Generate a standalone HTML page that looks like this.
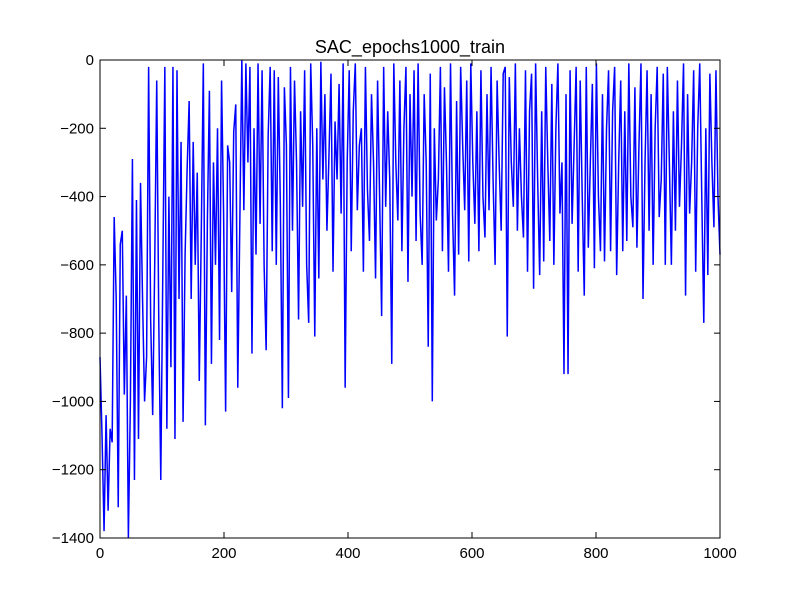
<!DOCTYPE html>
<html><head><meta charset="utf-8"><style>
html,body{margin:0;padding:0;background:#fff;}
svg{display:block;font-family:"Liberation Sans","DejaVu Sans",sans-serif;}
</style></head><body>
<svg id="chart" width="800" height="600">
<rect width="800" height="600" fill="#fff"/>
<text x="410" y="53" font-size="18" text-anchor="middle">SAC_epochs1000_train</text>
<g id="series"></g>
<rect x="100" y="60" width="620" height="478" fill="none" stroke="#000" stroke-width="1"/>
<g id="axes"></g>
</svg>
<script>
const xTicks=[0,200,400,600,800,1000];
const yTicks=[0,-200,-400,-600,-800,-1000,-1200,-1400];
const rewards=[
-870,-1100,-1380,-1040,-1320,-1080,-1120,-460,-700,-1310,-540,-500,-980,-690,-1400,-1000,-290,-1230,-410,-1110,-360,-700,-1000,-870,-20,-760,-1040,-600,-60,-760,-1230,-620,-20,-1080,-400,-900,-20,-1110,-30,-700,
-240,-1060,-570,-320,-120,-700,-240,-600,-330,-940,-500,-10,-1070,-470,-90,-890,-300,-600,-200,-820,-60,-450,-1030,-250,-300,-680,-210,-130,-960,-480,0,-440,-10,-300,-20,-860,-200,-570,-10,-480,
-30,-600,-850,-220,-20,-560,-30,-600,-50,-420,-1020,-80,-250,-990,-20,-500,-60,-300,-760,-150,-430,-30,-600,-770,-10,-250,-810,-200,-640,-5,-350,-100,-500,-280,-40,-620,-180,-350,-70,-450,
-10,-960,-300,-30,-560,-150,-10,-440,-250,-200,-620,-20,-380,-530,-100,-300,-640,-60,-400,-750,-20,-430,-150,-350,-890,-10,-300,-470,-60,-560,-200,-20,-650,-100,-400,-30,-530,-10,-450,-600,
-100,-300,-840,-40,-1000,-200,-470,-350,-20,-560,-80,-300,-620,-10,-450,-690,-120,-570,-20,-250,-440,-60,-590,-10,-300,-480,-150,-560,-30,-400,-520,-100,-440,-20,-350,-600,-60,-300,-500,-40,
-20,-810,-50,-300,-430,-10,-500,-200,-400,-520,-30,-620,-150,-40,-670,-10,-350,-630,-150,-590,-20,-300,-530,-70,-600,-200,-10,-450,-300,-920,-100,-920,-30,-480,-250,-20,-620,-60,-400,-690,
-20,-550,-300,-70,-610,-10,-400,-560,-100,-590,-200,-30,-560,-150,-20,-630,-300,-60,-560,-150,-530,-10,-400,-490,-80,-550,-250,-10,-700,-300,-30,-500,-100,-600,-200,-20,-460,-350,-40,-600,
-20,-300,-600,-150,-500,-60,-430,-250,-10,-690,-100,-450,-300,-30,-620,-200,-10,-400,-770,-200,-630,-40,-300,-490,-30,-400,-570
];
const xStep=1000/(rewards.length-1);
const X0=100,X1=720,Y0=60,Y1=538;
const sx=v=>X0+(v-0)/(1000-0)*(X1-X0);
const sy=v=>Y0+(0-v)/(0-(-1400))*(Y1-Y0);
const NS="http://www.w3.org/2000/svg";
const mk=(t,a)=>{const e=document.createElementNS(NS,t);for(const k in a)e.setAttribute(k,a[k]);return e;};
const series=document.getElementById('series');
const line=mk('polyline',{points:rewards.map((v,i)=>sx(i*xStep)+','+sy(v)).join(' '),fill:'none',stroke:'#0000ff','stroke-width':1.5});


series.appendChild(line);
const axes=document.getElementById('axes');
xTicks.forEach(t=>{
  const x=sx(t);
  axes.appendChild(mk('line',{x1:x,x2:x,y1:Y1,y2:Y1-6,stroke:'#000'}));
  axes.appendChild(mk('line',{x1:x,x2:x,y1:Y0,y2:Y0+6,stroke:'#000'}));
  const tx=mk('text',{x:x,y:Y1+20,'font-size':15,'text-anchor':'middle'});
  tx.textContent=t;
  
  
  axes.appendChild(tx);
});
yTicks.forEach(t=>{
  const y=sy(t);
  axes.appendChild(mk('line',{x1:X0,x2:X0+6,y1:y,y2:y,stroke:'#000'}));
  axes.appendChild(mk('line',{x1:X1,x2:X1-6,y1:y,y2:y,stroke:'#000'}));
  const tx=mk('text',{x:X0-6,y:y+5,'font-size':15,'text-anchor':'end'});
  tx.textContent=t===0?'0':'\u2212'+(-t);
  
  
  axes.appendChild(tx);
});
</script>
</body></html>
